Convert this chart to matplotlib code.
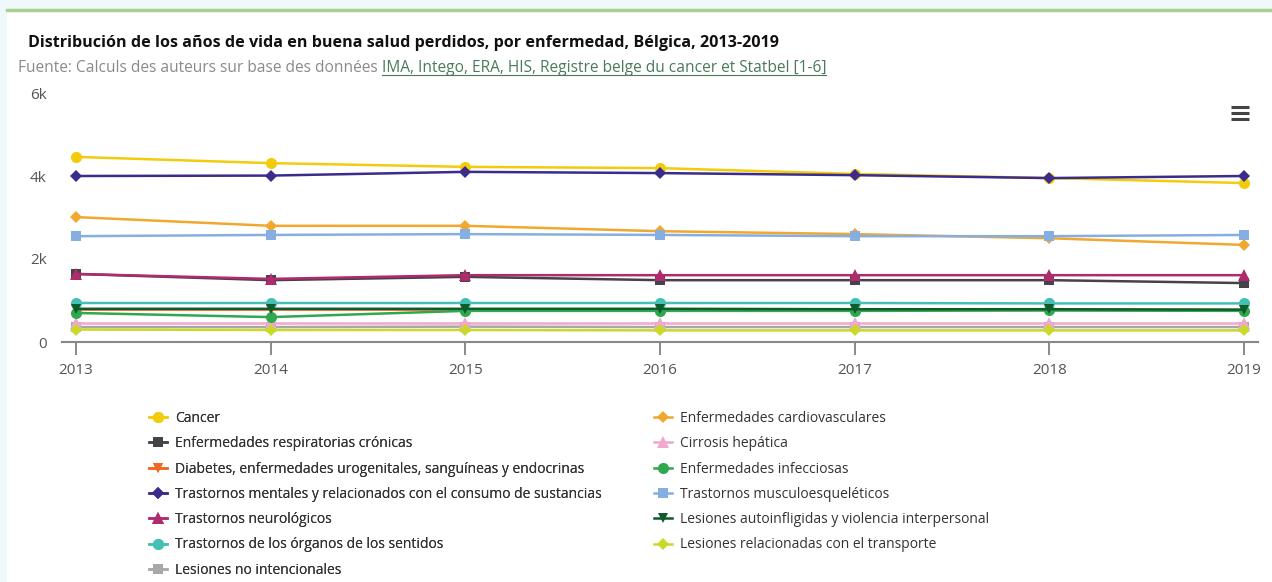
import matplotlib
matplotlib.use("Agg")
import matplotlib.pyplot as plt
from matplotlib.lines import Line2D
from matplotlib.patches import Rectangle

plt.rcParams['font.family'] = ['Open Sans', 'DejaVu Sans']

years = [2013, 2014, 2015, 2016, 2017, 2018, 2019]

series_names = [
    "Cancer",
    "Enfermedades respiratorias crónicas",
    "Diabetes, enfermedades urogenitales, sanguíneas y endocrinas",
    "Trastornos mentales y relacionados con el consumo de sustancias",
    "Trastornos neurológicos",
    "Trastornos de los órganos de los sentidos",
    "Lesiones no intencionales",
    "Enfermedades cardiovasculares",
    "Cirrosis hepática",
    "Enfermedades infecciosas",
    "Trastornos musculoesqueléticos",
    "Lesiones autoinfligidas y violencia interpersonal",
    "Lesiones relacionadas con el transporte",
]

cancer = [4460, 4310, 4220, 4190, 4050, 3950, 3830]
respiratorias = [1640, 1490, 1570, 1490, 1490, 1490, 1420]
diabetes = [780, 780, 780, 780, 780, 770, 770]
mentales = [4000, 4010, 4100, 4070, 4020, 3950, 4000]
neurologicos = [1640, 1520, 1610, 1610, 1610, 1610, 1610]
sentidos = [940, 940, 940, 940, 940, 930, 930]
no_intencionales = [360, 360, 370, 360, 360, 360, 360]
cardiovasculares = [3010, 2800, 2800, 2670, 2600, 2500, 2340]
cirrosis = [460, 460, 460, 460, 460, 460, 460]
infecciosas = [700, 600, 750, 750, 750, 760, 750]
musculo = [2550, 2580, 2600, 2580, 2550, 2550, 2580]
autoinfligidas = [800, 800, 800, 800, 790, 790, 780]
transporte = [300, 290, 290, 280, 280, 280, 280]

series_values = [cancer, respiratorias, diabetes, mentales, neurologicos, sentidos,
                 no_intencionales, cardiovasculares, cirrosis, infecciosas, musculo,
                 autoinfligidas, transporte]

colors = ["#f2cc0c", "#434348", "#f26522", "#3b2b8c", "#b02a6e", "#45c0b5", "#a8a8a8",
          "#f0a830", "#f0a8cc", "#2fa84f", "#86aee0", "#0f5c2a", "#c9d92a"]
markers = ["o", "s", "v", "D", "^", "o", "s", "D", "^", "o", "s", "v", "D"]
msizes = [8, 7.5, 7.5, 6, 8, 8, 7.5, 6, 8, 8, 7.5, 7.5, 6]

ytick_vals = [0, 2000, 4000, 6000]
ytick_labels = ["0", "2k", "4k", "6k"]

W, H = 1272, 582
fig = plt.figure(figsize=(W / 100, H / 100), dpi=100)
fig.patch.set_facecolor("#eff9fc")

# white panel with green top border
fig.patches.append(Rectangle((7 / W, 0), 1 - 7 / W, 1 - 10 / H, transform=fig.transFigure,
                             facecolor="white", edgecolor="none", zorder=-5))
fig.lines.append(Line2D([7 / W, 1], [1 - 10 / H, 1 - 10 / H], transform=fig.transFigure,
                        color="#a9d18e", lw=2.5))

ax = fig.add_axes([62 / W, 1 - 342 / H, (1258 - 62) / W, (342 - 93) / H])
ax.set_facecolor("none")
ax.set_zorder(2)

for i in range(len(series_names)):
    ax.plot(years, series_values[i], color=colors[i], marker=markers[i],
            markersize=msizes[i], lw=1.8, label=series_names[i], zorder=3,
            markeredgewidth=0)

ax.set_xlim(2013 - 14 / 194.7, 2019 + 14 / 194.7)
ax.set_ylim(0, 6000)
ax.set_xticks(years)
ax.set_xticklabels([str(y) for y in years], fontsize=11, color="#555555")
ax.set_yticks(ytick_vals)
ax.set_yticklabels(ytick_labels, fontsize=11, color="#555555")
ax.tick_params(axis="x", length=9, width=1.2, color="#777777", pad=6, direction="out")
for s in ["top", "right", "left"]:
    ax.spines[s].set_visible(False)
ax.spines["bottom"].set_color("#888888")
ax.spines["bottom"].set_linewidth(1.5)
ax.tick_params(axis="y", length=0, pad=11)

# Title and subtitle
fig.text(28 / W, 1 - 43 / H, "Distribución de los años de vida en buena salud perdidos, por enfermedad, Bélgica, 2013-2019",
         fontsize=11.6, fontweight="bold", color="#111111", va="center", ha="left")

renderer = fig.canvas.get_renderer()
t1 = fig.text(18 / W, 1 - 68 / H, "Fuente: Calculs des auteurs sur base des données ",
              fontsize=11.2, color="#8a8a8a", va="center", ha="left")
bb = t1.get_window_extent(renderer)
t2 = fig.text(bb.x1 / W, 1 - 68 / H, "IMA, Intego, ERA, HIS, Registre belge du cancer et Statbel [1-6]",
              fontsize=11.2, color="#4a7a5a", va="center", ha="left")
bb2 = t2.get_window_extent(renderer)
fig.lines.append(Line2D([bb2.x0 / W, bb2.x1 / W], [(bb2.y0 + 1) / H, (bb2.y0 + 1) / H],
                        transform=fig.transFigure, color="#4a7a5a", lw=0.8))

# Hamburger menu
for dy in [-6, 0, 6]:
    yy = 1 - (113 + dy) / H
    fig.lines.append(Line2D([1231 / W, 1249 / W], [yy, yy], transform=fig.transFigure,
                            color="#444444", lw=2.2, solid_capstyle="butt"))

# Legend (two columns, drawn as two legends)
handles = ax.get_legend_handles_labels()[0]
left_idx = [0, 1, 2, 3, 4, 5, 6]
right_idx = [7, 8, 9, 10, 11, 12]

def make_legend(idx, x, y):
    lg = fig.legend([handles[i] for i in idx], [series_names[i] for i in idx],
                    loc="upper left", bbox_to_anchor=(x / W, 1 - y / H),
                    frameon=False, fontsize=10, handlelength=1.3, handletextpad=0.6,
                    labelspacing=0.74, borderaxespad=0, borderpad=0,
                    labelcolor="#333333")
    return lg

lg1 = make_legend(left_idx, 149, 411)
lg2 = make_legend(right_idx, 654, 411)
fig.add_artist(lg1)

fig.savefig("out.png", dpi=100, facecolor=fig.get_facecolor())
